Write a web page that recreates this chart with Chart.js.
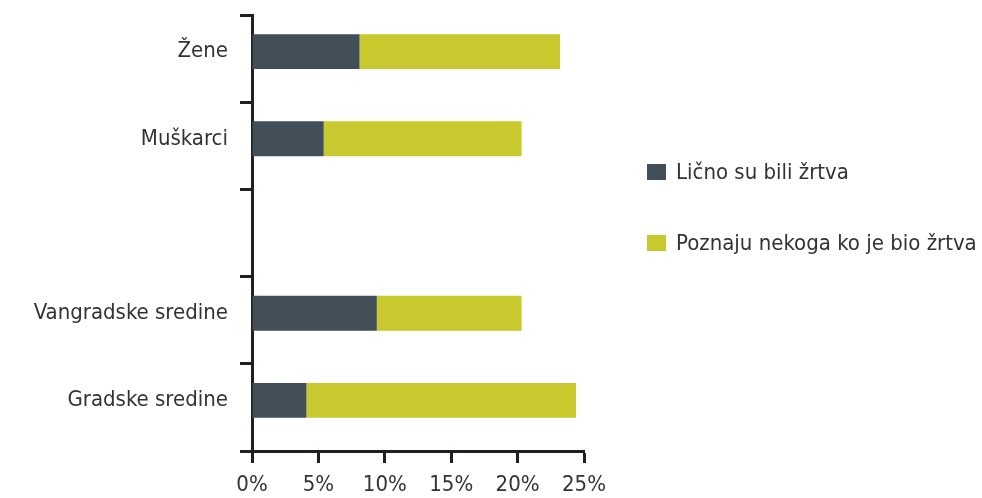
<!DOCTYPE html>
<html>
<head>
<meta charset="utf-8">
<script src="https://cdn.jsdelivr.net/npm/chart.js@4/dist/chart.umd.min.js"></script>
<style>
  html, body { margin: 0; padding: 0; background: #fff; }
  #wrap { position: relative; width: 982px; height: 498px; }
  .legend { position: absolute; left: 647px; font-family: 'DejaVu Sans Condensed', sans-serif; white-space: nowrap;
            font-size: 22px; color: #333; display: flex; align-items: center; }
  .legend i { display: inline-block; width: 19px; height: 16px; margin-right: 10px; }
</style>
</head>
<body>
<div id="wrap">
  <canvas id="chart" width="982" height="498"></canvas>
  <div class="legend" style="top:159px"><i style="background:#434f58"></i>Lično su bili žrtva</div>
  <div class="legend" style="top:230px"><i style="background:#c7c92e"></i>Poznaju nekoga ko je bio žrtva</div>
</div>
<script>
// ─── Data ─────────────────────────────────────────────────────────────────────
const categories = ['Žene', 'Muškarci', '', 'Vangradske sredine', 'Gradske sredine'];
const personallyVictim = [8.1, 5.4, null, 9.4, 4.1];
const knowVictim = [15.1, 14.9, null, 10.9, 20.3];
const xTicks = [0, 5, 10, 15, 20, 25];

const AXIS = '#231f20';
const TEXT = '#333';
const FONT = "'DejaVu Sans Condensed', sans-serif";
const BAR_SHIFT = -7; // bars sit slightly above the category centre

// nudge bars up a little, like in the original
const shiftBars = {
  id: 'shiftBars',
  beforeDatasetsDraw(chart) { chart.ctx.save(); chart.ctx.translate(0, BAR_SHIFT); },
  afterDatasetsDraw(chart) { chart.ctx.restore(); },
};

new Chart(document.getElementById('chart'), {
  type: 'bar',
  data: {
    labels: categories,
    datasets: [
      { label: 'Lično su bili žrtva', data: personallyVictim, backgroundColor: '#434f58' },
      { label: 'Poznaju nekoga ko je bio žrtva', data: knowVictim, backgroundColor: '#c7c92e' },
    ],
  },
  options: {
    indexAxis: 'y',
    responsive: false,
    animation: false,
    barPercentage: 0.4,
    categoryPercentage: 1,
    layout: { padding: { top: 15, right: 398, left: 0, bottom: 0 } },
    plugins: { legend: { display: false }, tooltip: { enabled: false } },
    scales: {
      x: {
        stacked: true,
        min: 0,
        max: 25,
        afterBuildTicks: s => { s.ticks = xTicks.map(v => ({ value: v })); },
        afterFit: s => { s.height = 47; },
        ticks: { color: TEXT, font: { family: FONT, size: 22 }, padding: 9, callback: v => v + '%' },
        grid: { drawOnChartArea: false, tickLength: 12, tickWidth: 3, tickColor: AXIS },
        border: { color: AXIS, width: 3 },
      },
      y: {
        stacked: true,
        afterFit: s => { s.width = 252; s.paddingTop = 0; s.paddingBottom = 0; },
        ticks: { color: TEXT, font: { family: FONT, size: 22 }, padding: 12, labelOffset: BAR_SHIFT },
        grid: { offset: true, drawOnChartArea: false, tickLength: 12, tickWidth: 3, tickColor: AXIS },
        border: { color: AXIS, width: 3 },
      },
    },
  },
  plugins: [shiftBars],
});
</script>
</body>
</html>
